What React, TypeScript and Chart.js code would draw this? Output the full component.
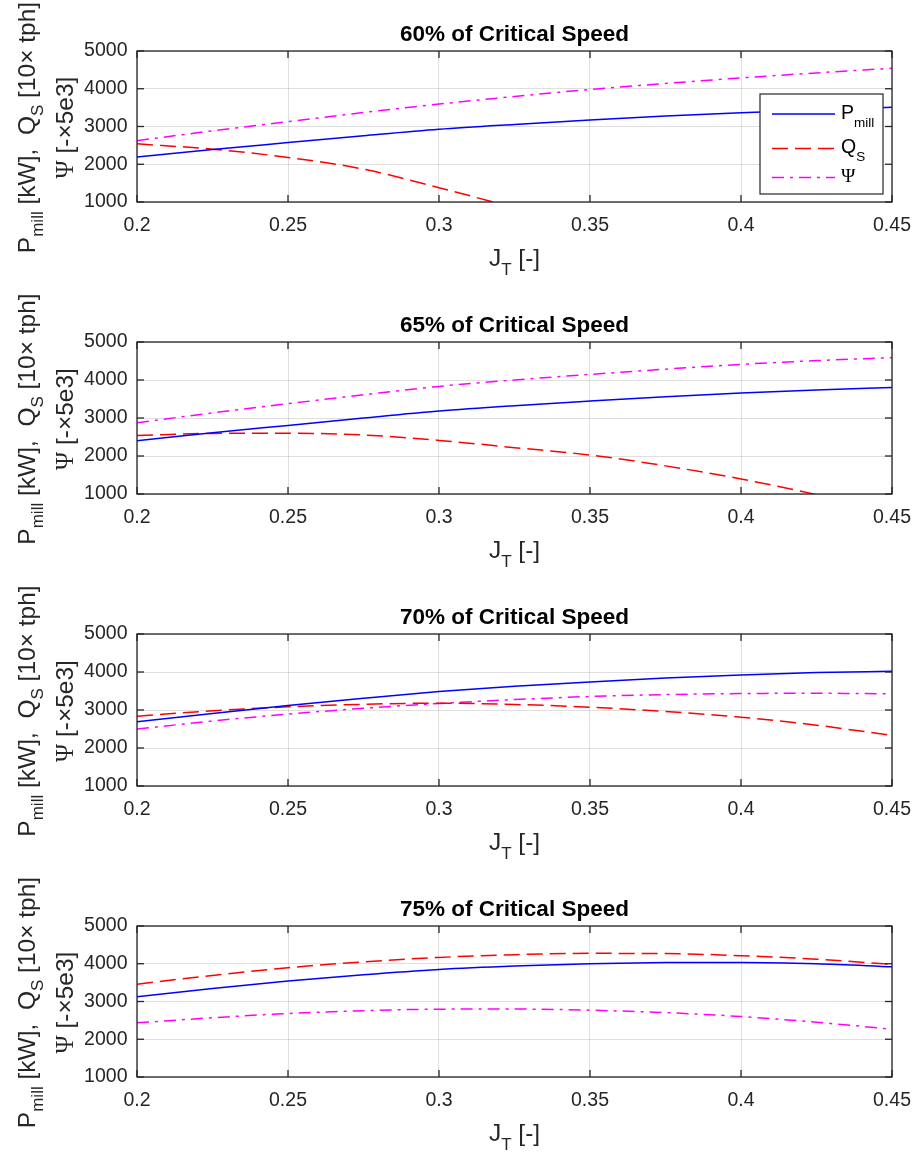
import React, { useEffect, useRef } from 'react';
import { Chart, registerables } from 'chart.js';

Chart.register(...registerables);

// ---------- data ----------
const J_T = [0.2, 0.225, 0.25, 0.275, 0.3, 0.325, 0.35, 0.375, 0.4, 0.425, 0.45];
const X_TICKS = [0.2, 0.25, 0.3, 0.35, 0.4, 0.45];
const Y_TICKS = [1000, 2000, 3000, 4000, 5000];
const TITLES = ['60% of Critical Speed', '65% of Critical Speed', '70% of Critical Speed', '75% of Critical Speed'];

const P_MILL_60 = [2195, 2390, 2573, 2755, 2926, 3055, 3171, 3275, 3364, 3440, 3507];
const Q_S_60 = [2540, 2400, 2180, 1870, 1380, 850, null, null, null, null, null];
const PSI_60 = [2625, 2885, 3127, 3370, 3594, 3795, 3981, 4140, 4288, 4420, 4543];

const P_MILL_65 = [2403, 2610, 2805, 3000, 3184, 3325, 3447, 3560, 3658, 3740, 3805];
const Q_S_65 = [2542, 2595, 2600, 2553, 2411, 2220, 2026, 1740, 1395, 985, 520];
const PSI_65 = [2876, 3135, 3376, 3610, 3832, 4000, 4147, 4285, 4411, 4510, 4587];

const P_MILL_70 = [2689, 2910, 3118, 3310, 3486, 3625, 3740, 3840, 3923, 3985, 4020];
const Q_S_70 = [2838, 2980, 3083, 3150, 3180, 3145, 3074, 2960, 2812, 2600, 2330];
const PSI_70 = [2497, 2710, 2891, 3045, 3171, 3275, 3355, 3405, 3433, 3440, 3425];

const P_MILL_75 = [3124, 3345, 3540, 3710, 3850, 3940, 4000, 4030, 4035, 4000, 3920];
const Q_S_75 = [3460, 3690, 3894, 4050, 4168, 4240, 4275, 4270, 4212, 4120, 3982];
const PSI_75 = [2434, 2570, 2682, 2755, 2797, 2800, 2770, 2705, 2602, 2450, 2266];

const P_MILL = [P_MILL_60, P_MILL_65, P_MILL_70, P_MILL_75];
const Q_S = [Q_S_60, Q_S_65, Q_S_70, Q_S_75];
const PSI = [PSI_60, PSI_65, PSI_70, PSI_75];

// ---------- layout / style ----------
const W = 915;
const H = 1153;
const LEFT = 137;
const RIGHT = 892;
const TOPS = [51, 342, 634, 926];
const BOTTOMS = [202, 494, 786, 1077];
const XAXIS_H = 40;

const SANS = '"Liberation Sans", Arial, Helvetica, sans-serif';
const SERIF = '"Liberation Serif", "DejaVu Serif", "Times New Roman", serif';
const AX = '#262626';
const BLUE = '#0000ff';
const RED = '#ff0000';
const MAGENTA = '#ff00ff';
const DASH = [16, 7];
const DASHDOT = [12, 6, 3, 6];
const LW = 1.5;

type Seg = { t: string; size: number; dy?: number; family?: string; bold?: boolean };

function fontOf(s: Seg) {
  return `${s.bold ? 'bold ' : ''}${s.size}px ${s.family || SANS}`;
}

function drawRich(ctx: CanvasRenderingContext2D, segs: Seg[], x: number, y: number, align: 'left' | 'center') {
  const widths: number[] = [];
  let total = 0;
  for (const s of segs) {
    ctx.font = fontOf(s);
    const w = ctx.measureText(s.t).width;
    widths.push(w);
    total += w;
  }
  let cx = align === 'center' ? x - total / 2 : x;
  ctx.textAlign = 'left';
  ctx.textBaseline = 'alphabetic';
  segs.forEach((s, i) => {
    ctx.font = fontOf(s);
    ctx.fillText(s.t, cx, y + (s.dy || 0));
    cx += widths[i];
  });
}

function line(ctx: CanvasRenderingContext2D, x1: number, y1: number, x2: number, y2: number) {
  ctx.beginPath();
  ctx.moveTo(x1, y1);
  ctx.lineTo(x2, y2);
  ctx.stroke();
}

const LBL = 24.5;
const SUB = 17;

function makeDecorPlugin(idx: number) {
  return {
    id: 'decor' + idx,
    afterDraw(chart: any) {
      const ctx: CanvasRenderingContext2D = chart.ctx;
      const { left, right, top, bottom } = chart.chartArea;
      const xs = chart.scales.x;
      const ys = chart.scales.y;
      ctx.save();
      // box
      ctx.strokeStyle = AX;
      ctx.lineWidth = 1.3;
      ctx.setLineDash([]);
      ctx.strokeRect(left, top, right - left, bottom - top);
      // inward ticks
      const TL = 7;
      X_TICKS.forEach((v) => {
        const px = xs.getPixelForValue(v);
        line(ctx, px, bottom, px, bottom - TL);
        line(ctx, px, top, px, top + TL);
      });
      Y_TICKS.forEach((v) => {
        const py = ys.getPixelForValue(v);
        line(ctx, left, py, left + TL, py);
        line(ctx, right, py, right - TL, py);
      });
      const cx = (left + right) / 2;
      const cy = (top + bottom) / 2;
      // title
      ctx.fillStyle = '#000';
      drawRich(ctx, [{ t: TITLES[idx], size: 22.5, bold: true }], cx, top - 10, 'center');
      // x label
      ctx.fillStyle = AX;
      drawRich(
        ctx,
        [
          { t: 'J', size: LBL },
          { t: 'T', size: SUB, dy: 9 },
          { t: ' [-]', size: LBL },
        ],
        cx,
        bottom + 64,
        'center'
      );
      // y label (two lines, rotated)
      ctx.save();
      ctx.translate(left - 102, cy + 1);
      ctx.rotate(-Math.PI / 2);
      drawRich(
        ctx,
        [
          { t: 'P', size: LBL },
          { t: 'mill', size: SUB, dy: 8 },
          { t: ' [kW],  Q', size: LBL },
          { t: 'S', size: SUB, dy: 8 },
          { t: ' [10\u00d7 tph]', size: LBL },
        ],
        0,
        0,
        'center'
      );
      ctx.restore();
      ctx.save();
      ctx.translate(left - 64, cy + 1);
      ctx.rotate(-Math.PI / 2);
      drawRich(
        ctx,
        [
          { t: '\u03a8', size: LBL, family: SERIF },
          { t: ' [-\u00d75e3]', size: LBL },
        ],
        0,
        0,
        'center'
      );
      ctx.restore();

      // legend (first panel only)
      if (idx === 0) {
        const lx = 760, ly = 94, lw = 123, lh = 100;
        ctx.fillStyle = '#fff';
        ctx.fillRect(lx, ly, lw, lh);
        ctx.strokeStyle = AX;
        ctx.lineWidth = 1.2;
        ctx.setLineDash([]);
        ctx.strokeRect(lx, ly, lw, lh);
        const items = [
          { color: BLUE, dash: [] as number[], y: 114, label: [{ t: 'P', size: 19.5 }, { t: 'mill', size: 13.5, dy: 8.5 }] },
          { color: RED, dash: DASH, y: 148.5, label: [{ t: 'Q', size: 19.5 }, { t: 'S', size: 13.5, dy: 7.5 }] },
          { color: MAGENTA, dash: DASHDOT, y: 177.5, label: [{ t: '\u03a8', size: 19.5, family: SERIF }] },
        ];
        items.forEach((it) => {
          ctx.strokeStyle = it.color;
          ctx.lineWidth = LW;
          ctx.setLineDash(it.dash);
          line(ctx, 772, it.y, 835, it.y);
          ctx.setLineDash([]);
          ctx.fillStyle = '#000';
          drawRich(ctx, it.label as Seg[], 841, it.y + 4.5, 'left');
        });
      }
      ctx.restore();
    },
  };
}

function Panel({ idx }: { idx: number }) {
  const ref = useRef<HTMLCanvasElement | null>(null);
  useEffect(() => {
    const canvas = ref.current;
    if (!canvas) return;
    const mk = (arr: (number | null)[]) => J_T.map((x, i) => ({ x, y: arr[i] }));
    const chart = new Chart(canvas, {
      type: 'line',
      data: {
        datasets: [
          {
            label: 'P_mill',
            data: mk(P_MILL[idx]) as any,
            borderColor: BLUE,
            borderWidth: LW,
            pointRadius: 0,
            cubicInterpolationMode: 'monotone',
            fill: false,
          },
          {
            label: 'Q_S',
            data: mk(Q_S[idx]) as any,
            borderColor: RED,
            borderWidth: LW,
            borderDash: DASH,
            pointRadius: 0,
            cubicInterpolationMode: 'monotone',
            fill: false,
          },
          {
            label: 'Psi',
            data: mk(PSI[idx]) as any,
            borderColor: MAGENTA,
            borderWidth: LW,
            borderDash: DASHDOT,
            pointRadius: 0,
            cubicInterpolationMode: 'monotone',
            fill: false,
          },
        ],
      },
      options: {
        animation: false,
        responsive: false,
        maintainAspectRatio: false,
        devicePixelRatio: 1,
        events: [],
        layout: {
          padding: { left: 0, right: W - RIGHT, top: TOPS[idx], bottom: H - BOTTOMS[idx] - XAXIS_H },
        },
        plugins: {
          legend: { display: false },
          title: { display: false },
          tooltip: { enabled: false },
        },
        scales: {
          x: {
            type: 'linear',
            min: 0.2,
            max: 0.45,
            afterBuildTicks: (s: any) => {
              s.ticks = X_TICKS.map((v) => ({ value: v }));
            },
            afterFit: (s: any) => {
              s.height = XAXIS_H;
              s.paddingLeft = 0;
              s.paddingRight = 0;
              s.paddingTop = 0;
              s.paddingBottom = 0;
            },
            ticks: {
              autoSkip: false,
              maxRotation: 0,
              minRotation: 0,
              padding: 12,
              color: AX,
              font: { family: SANS, size: 19.5 },
              callback: (v: any) => String(v),
            },
            grid: { color: 'rgba(38,38,38,0.15)', lineWidth: 1, drawTicks: false },
            border: { display: false },
          },
          y: {
            type: 'linear',
            min: 1000,
            max: 5000,
            afterBuildTicks: (s: any) => {
              s.ticks = Y_TICKS.map((v) => ({ value: v }));
            },
            afterFit: (s: any) => {
              s.width = LEFT;
              s.paddingLeft = 0;
              s.paddingRight = 0;
              s.paddingTop = 0;
              s.paddingBottom = 0;
            },
            ticks: {
              autoSkip: false,
              padding: 9.5,
              color: AX,
              font: { family: SANS, size: 19.5 },
              callback: (v: any) => String(v),
            },
            grid: { color: 'rgba(38,38,38,0.15)', lineWidth: 1, drawTicks: false },
            border: { display: false },
          },
        },
      },
      plugins: [makeDecorPlugin(idx)],
    } as any);
    return () => chart.destroy();
  }, [idx]);
  return (
    <canvas
      ref={ref}
      width={W}
      height={H}
      style={{ position: 'absolute', left: 0, top: 0, width: W, height: H }}
    />
  );
}

export default function App() {
  return (
    <div style={{ position: 'absolute', left: 0, top: 0, width: W, height: H, background: '#fff' }}>
      {[0, 1, 2, 3].map((i) => (
        <Panel key={i} idx={i} />
      ))}
    </div>
  );
}
